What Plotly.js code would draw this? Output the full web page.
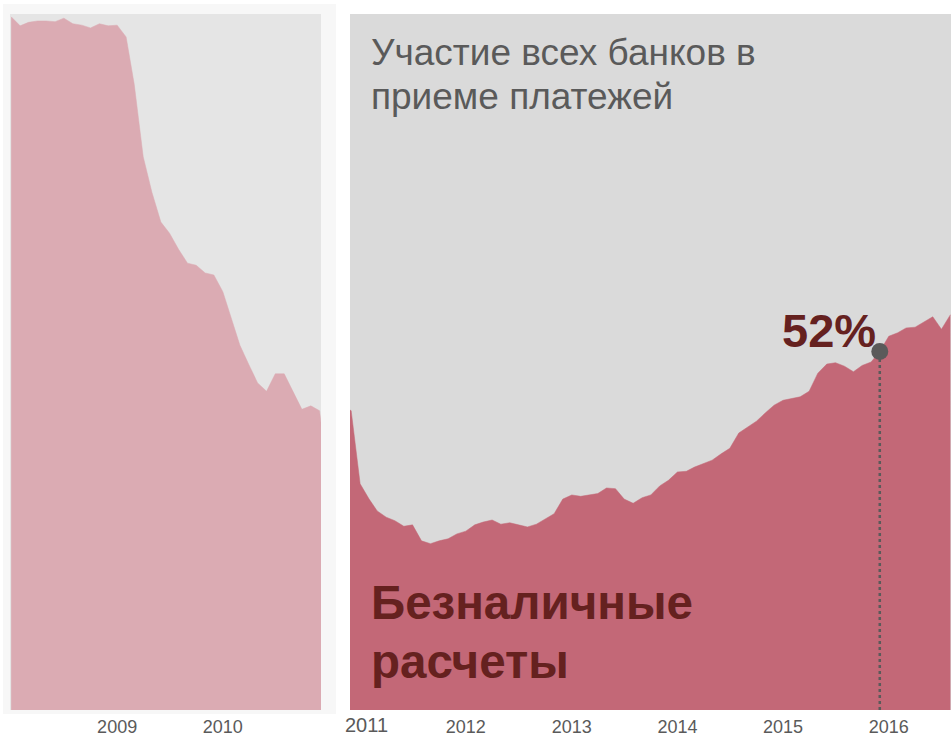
<!DOCTYPE html>
<html>
<head>
<meta charset="utf-8">
<script src="https://cdn.plot.ly/plotly-3.0.1.min.js"></script>
<style>
html,body{margin:0;padding:0;background:#ffffff;}
#chart{width:951px;height:737px;}
</style>
</head>
<body>
<div id="chart"></div>
<script>
// Monthly share of cashless payments, % (one value per month, Jan..Dec)
const v2008 = [99.6, 98.3, 98.8, 99.0, 99.0, 98.9, 99.4, 98.6, 98.4, 98.0, 98.6, 98.3];
const v2009 = [98.4, 96.7, 89.9, 79.5, 74.4, 70.1, 68.5, 66.2, 64.2, 63.9, 62.8, 62.5];
const v2010 = [60.1, 56.2, 52.4, 49.6, 47.0, 45.8, 48.3, 48.3, 45.8, 43.2, 43.7, 43.0];
const v2011 = [32.5, 30.3, 28.6, 27.7, 27.2, 26.4, 26.6, 24.3, 23.9, 24.3, 24.6, 25.3];
const v2012 = [25.7, 26.6, 27.0, 27.3, 26.7, 26.9, 26.6, 26.3, 26.7, 27.4, 28.2, 30.3];
const v2013 = [30.9, 30.7, 30.9, 31.1, 31.9, 31.8, 30.3, 29.7, 30.5, 30.9, 32.2, 33.0];
const v2014 = [34.2, 34.3, 34.9, 35.4, 35.9, 36.8, 37.6, 39.8, 40.7, 41.5, 42.7, 43.8];
const v2015 = [44.5, 44.8, 45.0, 45.8, 48.4, 49.7, 49.9, 49.4, 48.6, 49.5, 50.0, 51.5];
const v2016 = [53.7, 54.2, 54.9, 55.0, 55.7, 56.5, 54.7, 56.8];

const years = [2008, 2009, 2010, 2011, 2012, 2013, 2014, 2015, 2016];
const yearValues = [v2008, v2009, v2010, v2011, v2012, v2013, v2014, v2015, v2016];

const leftTickVals = ['2009-01-01', '2010-01-01'];
const leftTickText = ['2009', '2010'];
const rightTickVals = ['2012-01-01', '2013-01-01', '2014-01-01', '2015-01-01', '2016-01-01'];
const rightTickText = ['2012', '2013', '2014', '2015', '2016'];
const firstRightYearLabel = '2011';

const highlightDate = '2015-12-01';
const titleLines = ['Участие всех банков в', 'приеме платежей'];
const seriesLines = ['Безналичные', 'расчеты'];

// build month series
const dates = [];
const values = [];
years.forEach((yr, i) => {
  yearValues[i].forEach((v, m) => {
    dates.push(yr + '-' + String(m + 1).padStart(2, '0') + '-01');
    values.push(v);
  });
});
const hi = dates.indexOf(highlightDate);
const hiVal = values[hi];

const W = 951, H = 737;
const fx = px => px / W;
const fy = py => 1 - py / H;

const FONT = 'Liberation Sans, Arial, sans-serif';
const tickFont = {family: FONT, size: 18, color: '#5a5a5a'};
const yDomain = [fy(710), fy(14)];

const traces = [
  {x: dates, y: values, xaxis: 'x', yaxis: 'y', type: 'scatter', mode: 'lines',
   fill: 'tozeroy', fillcolor: '#dbabb3', line: {color: '#dbabb3', width: 0.5}, hoverinfo: 'skip'},
  {x: dates, y: values, xaxis: 'x2', yaxis: 'y2', type: 'scatter', mode: 'lines',
   fill: 'tozeroy', fillcolor: '#c36877', line: {color: '#c36877', width: 0.5}, hoverinfo: 'skip'},
  {x: [dates[hi], dates[hi]], y: [0, hiVal], xaxis: 'x2', yaxis: 'y2', type: 'scatter', mode: 'lines',
   line: {color: '#5a5a5a', width: 2.5, dash: 'dot'}, hoverinfo: 'skip'},
  {x: [dates[hi]], y: [hiVal], xaxis: 'x2', yaxis: 'y2', type: 'scatter', mode: 'markers',
   marker: {size: 17, color: '#5a5a5a'}, cliponaxis: false, hoverinfo: 'skip'}
];

const baseX = {
  type: 'date', showgrid: false, zeroline: false, showline: false,
  ticks: 'outside', ticklen: 0, tickcolor: 'rgba(0,0,0,0)', tickfont: tickFont, fixedrange: true
};

const layout = {
  width: W, height: H, autosize: false,
  margin: {l: 0, r: 0, t: 0, b: 0, pad: 0},
  paper_bgcolor: '#ffffff', plot_bgcolor: 'rgba(0,0,0,0)',
  showlegend: false,
  xaxis: Object.assign({}, baseX, {domain: [fx(10), fx(321)], range: ['2007-12-28', '2010-12-06'],
    tickvals: leftTickVals, ticktext: leftTickText, anchor: 'y'}),
  yaxis: {domain: yDomain, range: [0, 100], visible: false, fixedrange: true, anchor: 'x'},
  xaxis2: Object.assign({}, baseX, {domain: [fx(350), 1], range: ['2010-11-27', '2016-08-03'],
    tickvals: rightTickVals, ticktext: rightTickText, anchor: 'y2'}),
  yaxis2: {domain: yDomain, range: [0, 100], visible: false, fixedrange: true, anchor: 'x2'},
  shapes: [
    {type: 'rect', xref: 'paper', yref: 'paper', x0: fx(3), x1: fx(336), y0: fy(714), y1: fy(4),
     fillcolor: '#f7f7f7', line: {width: 0}, layer: 'below'},
    {type: 'rect', xref: 'paper', yref: 'paper', x0: fx(10), x1: fx(321), y0: fy(710), y1: fy(14),
     fillcolor: '#e5e5e5', line: {width: 0}, layer: 'below'},
    {type: 'rect', xref: 'paper', yref: 'paper', x0: fx(350), x1: 1, y0: fy(710), y1: fy(14),
     fillcolor: '#dadada', line: {width: 0}, layer: 'below'}
  ],
  annotations: [
    {xref: 'paper', yref: 'paper', x: fx(369), y: fy(52), xanchor: 'left', yanchor: 'middle', showarrow: false,
     text: titleLines[0], font: {family: FONT, size: 37, color: '#5a5a5a'}},
    {xref: 'paper', yref: 'paper', x: fx(369), y: fy(97), xanchor: 'left', yanchor: 'middle', showarrow: false,
     text: titleLines[1], font: {family: FONT, size: 37, color: '#5a5a5a'}},
    {xref: 'paper', yref: 'paper', x: fx(369), y: fy(602), xanchor: 'left', yanchor: 'middle', showarrow: false,
     text: '<b>' + seriesLines[0] + '</b>', font: {family: FONT, size: 47.5, color: '#65211f'}},
    {xref: 'paper', yref: 'paper', x: fx(369), y: fy(661), xanchor: 'left', yanchor: 'middle', showarrow: false,
     text: '<b>' + seriesLines[1] + '</b>', font: {family: FONT, size: 47.5, color: '#65211f'}},
    {xref: 'x2', yref: 'y2', x: dates[hi], y: hiVal, xanchor: 'right', yanchor: 'middle', showarrow: false,
     xshift: -2, yshift: 21,
     text: '<b>' + Math.round(hiVal) + '%</b>', font: {family: FONT, size: 47, color: '#65211f'}},
    {xref: 'paper', yref: 'paper', x: fx(366), y: fy(725), xanchor: 'center', yanchor: 'middle', showarrow: false,
     text: firstRightYearLabel, font: {family: FONT, size: 20, color: '#5a5a5a'}}
  ]
};

Plotly.newPlot('chart', traces, layout, {displayModeBar: false, staticPlot: true});
</script>
</body>
</html>
